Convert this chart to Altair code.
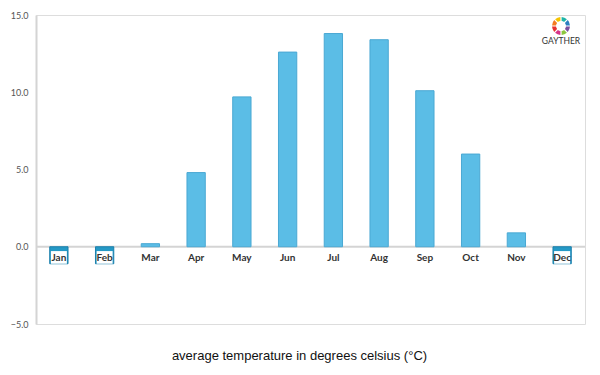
import altair as alt
import pandas as pd

months = ["Jan", "Feb", "Mar", "Apr", "May", "Jun", "Jul", "Aug", "Sep", "Oct", "Nov", "Dec"]
temps = [-1.1, -1.1, 0.2, 4.8, 9.7, 12.6, 13.8, 13.4, 10.1, 6.0, 0.9, -1.1]
y_ticks = [-5, 0, 5, 10, 15]
title_text = "average temperature in degrees celsius (°C)"
logo_text = "GAYTHER"
logo_colors = ["#e8312f", "#f47b20", "#f5c400", "#8cc63f", "#1fb5a8", "#2a7fc1", "#7a4fa0", "#d6338a"]

df = pd.DataFrame({"month": months, "temp": temps})

xscale = alt.Scale(domain=months, paddingInner=0.6, paddingOuter=0.3)
yscale = alt.Scale(domain=[-5, 15], nice=False, zero=False)

x_enc = alt.X("month:N", scale=xscale, sort=months, axis=None)

base = alt.Chart(df)

zero_rule = alt.Chart(pd.DataFrame({"z": [0]})).mark_rule(color="#d4d4d4", strokeWidth=2).encode(
    y=alt.Y("z:Q", scale=yscale),
    x=alt.value(0),
    x2=alt.value(549),
)

bars = base.mark_bar(strokeWidth=1).encode(
    x=x_enc,
    y=alt.Y(
        "temp:Q",
        scale=yscale,
        axis=alt.Axis(
            values=y_ticks,
            format=".1f",
            grid=False,
            ticks=False,
            domainColor="#d4d4d4",
            domainWidth=2,
            labelColor="#555555",
            labelFont="Lato",
            labelFontSize=9,
            labelPadding=8,
            title=None,
        ),
    ),
    y2=alt.datum(0),
    fill=alt.condition("datum.temp < 0", alt.value("#2499c6"), alt.value("#5bbde6")),
    stroke=alt.condition("datum.temp < 0", alt.value("#1b7fab"), alt.value("#4aa8d3")),
)

white_box = base.transform_filter("datum.temp < 0").mark_bar(color="white", width=16).encode(
    x=x_enc,
    y=alt.datum(-0.28, scale=yscale),
    y2=alt.datum(-1.1),
)

labels = base.mark_text(font="Lato", fontSize=10, fontWeight="bold", color="#333333", baseline="middle").encode(
    x=x_enc,
    y=alt.datum(-0.75, scale=yscale),
    text="month:N",
)

logo_df = pd.DataFrame({"c": logo_colors, "v": [1] * len(logo_colors)})
logo_ring = alt.Chart(logo_df).mark_arc(radius=9, radius2=5, padAngle=0.12).encode(
    theta=alt.Theta("v:Q", stack=True),
    color=alt.Color("c:N", scale=None, legend=None),
    x=alt.value(525),
    y=alt.value(11),
)
logo_label = alt.Chart(pd.DataFrame({"t": [logo_text]})).mark_text(
    font="Lato", fontSize=8.5, color="#333333", baseline="middle"
).encode(x=alt.value(525), y=alt.value(26), text="t:N")

chart = alt.layer(zero_rule, bars, white_box, labels, logo_ring, logo_label).properties(
    width=549,
    height=309,
    autosize=alt.AutoSizeParams(type="none"),
    padding={"left": 36, "top": 15, "right": 15, "bottom": 51},
    title=alt.TitleParams(
        text=title_text,
        orient="bottom",
        font="Liberation Sans",
        fontSize=13,
        fontWeight="normal",
        color="#111111",
        dx=-11,
        offset=21,
    ),
).configure_view(stroke=None).configure(background="white")

chart.save("out.html", embed_options={"renderer": "svg", "actions": False})
